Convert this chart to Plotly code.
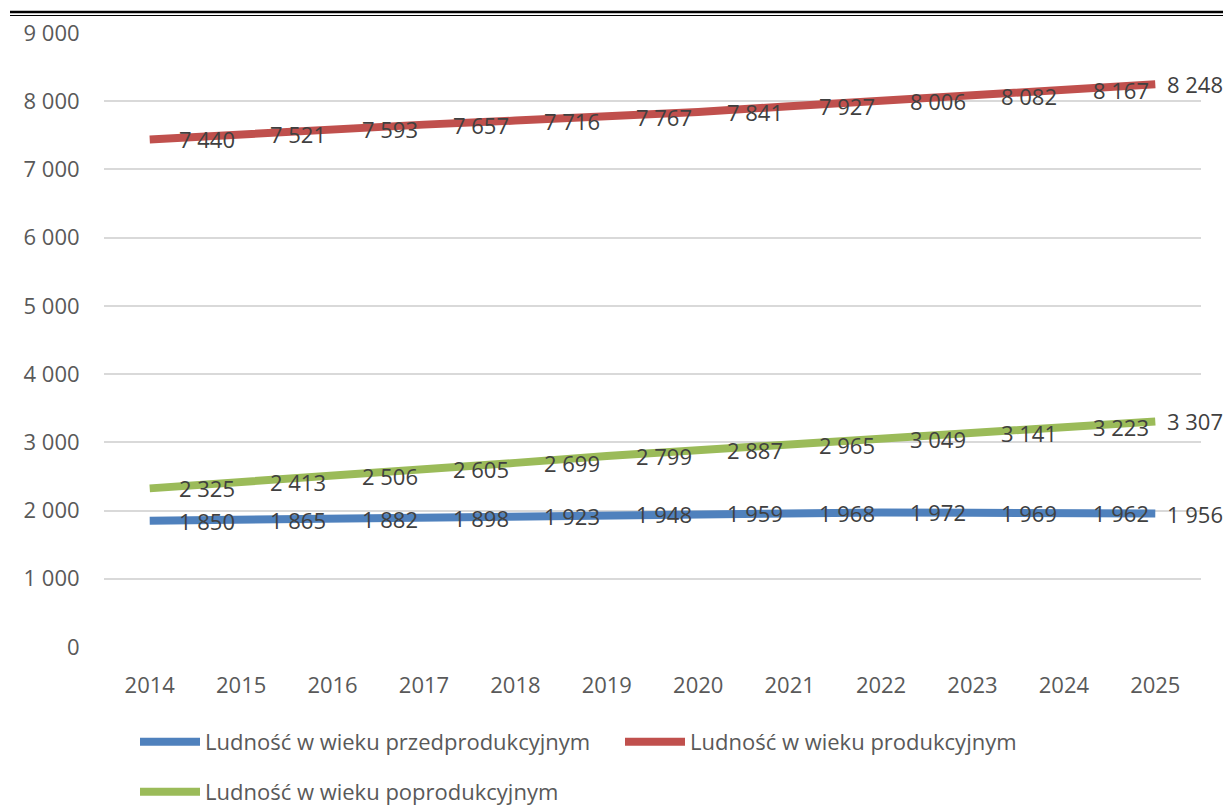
import plotly.graph_objects as go

years = ["2014", "2015", "2016", "2017", "2018", "2019", "2020", "2021", "2022", "2023", "2024", "2025"]
przed = [1850, 1865, 1882, 1898, 1923, 1948, 1959, 1968, 1972, 1969, 1962, 1956]
prod = [7440, 7521, 7593, 7657, 7716, 7767, 7841, 7927, 8006, 8082, 8167, 8248]
poprod = [2325, 2413, 2506, 2605, 2699, 2799, 2887, 2965, 3049, 3141, 3223, 3307]
y_ticks = [0, 1000, 2000, 3000, 4000, 5000, 6000, 7000, 8000, 9000]

names = ["Ludność w wieku przedprodukcyjnym", "Ludność w wieku produkcyjnym", "Ludność w wieku poprodukcyjnym"]
colors = ["#4f81bd", "#c0504d", "#9bbb59"]
series = [przed, prod, poprod]
legends = ["legend", "legend", "legend2"]

FONT = "Open Sans"

def fmt(v):
    return f"{v:,}".replace(",", " ")

fig = go.Figure()
for name, col, vals, lg in zip(names, colors, series, legends):
    fig.add_trace(go.Scatter(x=years, y=vals, mode="lines", name=name,
                             line=dict(color=col, width=8), legend=lg))

annotations = []
for vals in series:
    for i, v in enumerate(vals):
        annotations.append(dict(x=i, y=v, xref="x", yref="y", text=fmt(v), showarrow=False,
                                xanchor="left", yanchor="middle",
                                xshift=10 if i == len(years) - 1 else 27,
                                font=dict(family=FONT, size=22, color="#404040")))

# page body has an 8px margin; figure is sized/offset to compensate
OFF = 8
W, H = 1231 - OFF, 805 - OFF
L, T = 104 - OFF, 33 - OFF
pw, ph = 1097, 614
R, B = W - L - pw, H - T - ph

def px2x(px):
    return (px - OFF - L) / pw

def py2y(py):
    return (T + ph - (py - OFF)) / ph

shapes = [
    dict(type="line", xref="paper", yref="paper", x0=px2x(10), x1=px2x(1240), y0=py2y(12), y1=py2y(12),
         line=dict(color="black", width=2.5)),
    dict(type="line", xref="paper", yref="paper", x0=px2x(10), x1=px2x(1240), y0=py2y(15.5), y1=py2y(15.5),
         line=dict(color="black", width=1)),
]

fig.update_layout(
    width=W, height=H,
    margin=dict(l=L, r=R, t=T, b=B, autoexpand=False),
    paper_bgcolor="white", plot_bgcolor="white",
    font=dict(family=FONT, size=22, color="#595959"),
    xaxis=dict(type="category", range=[-0.5, len(years) - 0.5], showgrid=False, showline=False, zeroline=False,
               ticks="outside", ticklen=19, tickcolor="rgba(0,0,0,0)",
               tickfont=dict(family=FONT, size=22, color="#595959")),
    yaxis=dict(range=[0, 9000], tickvals=y_ticks, ticktext=[fmt(v) for v in y_ticks],
               showgrid=True, gridcolor="#d9d9d9", gridwidth=1.5, zeroline=False, showline=False,
               ticks="outside", ticklen=19, tickcolor="rgba(0,0,0,0)",
               tickfont=dict(family=FONT, size=22, color="#595959")),
    legend=dict(orientation="h", x=px2x(135), xanchor="left", y=py2y(742), yanchor="middle",
                font=dict(family=FONT, size=22, color="#595959"), itemwidth=60,
                entrywidth=410, bgcolor="rgba(0,0,0,0)"),
    legend2=dict(orientation="h", x=px2x(135), xanchor="left", y=py2y(792), yanchor="middle",
                 font=dict(family=FONT, size=22, color="#595959"), itemwidth=60,
                 bgcolor="rgba(0,0,0,0)"),
    annotations=annotations,
    shapes=shapes,
    showlegend=True,
)

fig.write_html("out.html")
